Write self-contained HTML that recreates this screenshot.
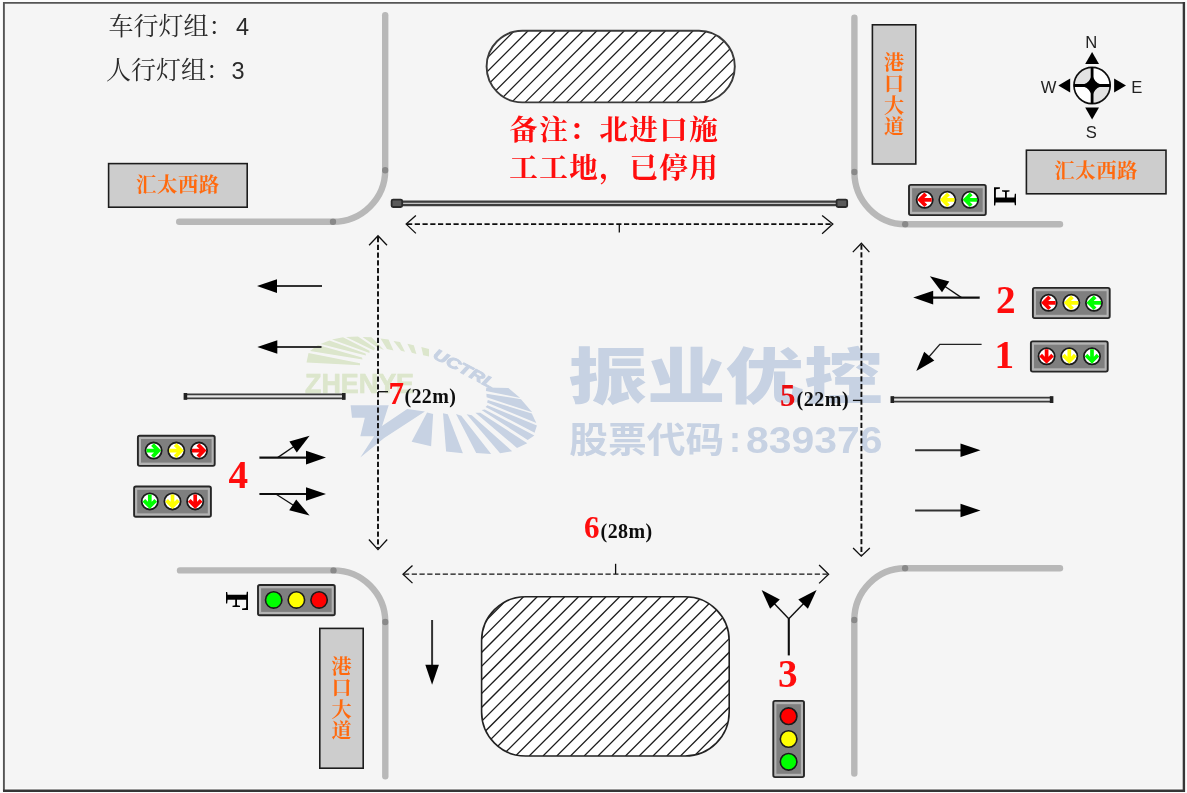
<!DOCTYPE html>
<html lang="zh"><head><meta charset="utf-8"><title>交叉口灯组布置图</title>
<style>
html,body{margin:0;padding:0;background:#fff;}
svg{display:block;}
.sf{font-family:"Liberation Serif","Noto Serif CJK SC",serif;}
.ss{font-family:"Liberation Sans","Noto Sans CJK SC",sans-serif;}
</style></head><body>
<svg width="1187" height="793" viewBox="0 0 1187 793">
<rect x="0" y="0" width="1187" height="793" fill="#fcfcfc"/>
<rect x="3.9" y="2.9" width="1180" height="787.7" fill="#f5f5f5"/>
<line x1="4" y1="789.1" x2="1183" y2="789.1" stroke="#fff" stroke-width="1.4"/>
<path d="M3.9 791 V2.9 H1184" fill="none" stroke="#555" stroke-width="1.9"/>
<path d="M1183.9 2 V790.7 H3" fill="none" stroke="#363636" stroke-width="2.4"/>
<defs><filter id="soft" x="0" y="0" width="100%" height="100%" filterUnits="userSpaceOnUse"><feGaussianBlur stdDeviation="0.5"/></filter></defs>
<g filter="url(#soft)">
<g id="wm">
<polygon fill="#dce6cc" points="306.5,362.5 308.5,353.0 360.0,363.3 360.0,365.3"/>
<polygon fill="#dce6cc" points="310.0,351.0 318.0,345.0 362.0,357.6 362.5,359.6"/>
<polygon fill="#dce6cc" points="320.5,344.0 329.5,340.5 365.5,353.6 366.0,355.6"/>
<polygon fill="#dce6cc" points="332.0,339.5 343.0,337.3 369.5,350.8 369.5,353.0"/>
<polygon fill="#dce6cc" points="346.0,337.0 358.0,336.5 375.0,348.0 374.0,350.5"/>
<polygon fill="#dce6cc" points="362.5,337.0 371.5,337.3 384.0,350.0 376.0,346.5"/>
<polygon fill="#dce6cc" points="380.5,338.5 388.5,339.5 393.5,350.5 387.0,349.0"/>
<polygon fill="#dce6cc" points="393.5,341.0 400.0,342.0 405.0,351.7 401.0,350.8"/>
<polygon fill="#dce6cc" points="407.4,343.8 413.8,345.2 416.4,354.0 411.8,352.7"/>
<polygon fill="#dce6cc" points="421.3,347.0 429.0,349.0 429.0,356.5 423.2,355.3"/>
<text class="ss" x="305" y="393.2" font-size="27" font-weight="700" fill="#dce6cc" stroke="#dce6cc" stroke-width="0.7" textLength="109" lengthAdjust="spacingAndGlyphs">ZHENYE</text>
<text class="ss" font-size="15" font-weight="700" font-style="italic" fill="#c7d2e3" stroke="#c7d2e3" stroke-width="0.9" transform="translate(432,357.5) rotate(28)" textLength="68" lengthAdjust="spacingAndGlyphs">UCTRL</text>
<polygon fill="#c7d2e3" points="486.3,387.5 508.4,387.9 520.2,398.0 485.9,391.0"/>
<polygon fill="#c7d2e3" points="486.4,393.7 521.0,399.3 532.2,412.3 486.6,397.3"/>
<polygon fill="#c7d2e3" points="487.8,400.1 531.8,413.6 536.3,423.1 487.0,402.4"/>
<polygon fill="#c7d2e3" points="487.4,405.2 536.9,425.6 534.6,432.8 485.5,406.9"/>
<polygon fill="#c7d2e3" points="484.8,409.4 534.4,435.4 527.7,440.0 481.5,410.1"/>
<polygon fill="#c7d2e3" points="480.3,412.8 527.3,443.3 517.0,447.9 475.4,412.7"/>
<polygon fill="#c7d2e3" points="471.8,415.3 512.2,451.2 500.1,453.3 466.6,414.2"/>
<polygon fill="#c7d2e3" points="461.3,415.8 491.2,454.1 476.2,453.0 456.0,413.9"/>
<polygon fill="#c7d2e3" points="447.8,414.2 462.9,453.2 446.1,451.4 443.0,413.3"/>
<polygon fill="#c7d2e3" points="433.1,414.1 431.1,446.2 411.6,441.7 427.1,412.4"/>
<polygon fill="#c7d2e3" points="350.6,405.3 388.7,405.3 381.6,427.5 378.0,436.3 360.3,436.3 364.8,417.7 352.0,417.7"/>
<polygon fill="#c7d2e3" points="407.2,408.9 424.9,411.5 384.2,438.1 360.3,457.5 379.8,427.5"/>
<text class="ss" x="568.5" y="399.2" font-size="61" font-weight="900" fill="#c7d2e3" textLength="314" lengthAdjust="spacingAndGlyphs">振业优控</text>
<text class="ss" x="569.2" y="453" font-size="36" font-weight="700" fill="#c7d2e3" textLength="155" lengthAdjust="spacingAndGlyphs">股票代码</text>
<text class="ss" x="729" y="452" font-size="36" font-weight="700" fill="#c7d2e3">:</text>
<text class="ss" x="746" y="453" font-size="37.5" font-weight="700" fill="#c7d2e3" textLength="136.5" lengthAdjust="spacingAndGlyphs">839376</text>
</g>
<g fill="none" stroke="#000" stroke-opacity="0.25" stroke-width="6.4" stroke-linecap="round">
<path d="M385.2 15.2V170.3"/><path d="M385.2 170.3A52.2 51.5 0 0 1 333 221.8"/><path d="M333 221.8H179.2"/>
<path d="M854.4 17.7V172"/><path d="M854.4 172A50.8 52.2 0 0 0 905.2 224.2"/><path d="M905.2 224.2H1060"/>
<path d="M180 570.4H333.5"/><path d="M333.5 570.4A51.8 51.6 0 0 1 385.3 622"/><path d="M385.3 622V776.2"/>
<path d="M1060 568.3H905.1"/><path d="M905.1 568.3A50.8 51.7 0 0 0 854.3 620"/><path d="M854.3 620V773.5"/>
</g>
<clipPath id="h1"><rect x="486.6" y="30.8" width="248.19999999999993" height="71.60000000000001" rx="35.8" ry="35.8"/></clipPath>
<rect x="486.6" y="30.8" width="248.19999999999993" height="71.60000000000001" rx="35.8" ry="35.8" fill="#fff"/>
<g clip-path="url(#h1)" stroke="#1a1a1a" stroke-width="1.25">
<line x1="401.5" y1="102.4" x2="473.1" y2="30.8"/>
<line x1="415.2" y1="102.4" x2="486.8" y2="30.8"/>
<line x1="429.0" y1="102.4" x2="500.6" y2="30.8"/>
<line x1="442.8" y1="102.4" x2="514.4" y2="30.8"/>
<line x1="456.5" y1="102.4" x2="528.1" y2="30.8"/>
<line x1="470.2" y1="102.4" x2="541.9" y2="30.8"/>
<line x1="484.0" y1="102.4" x2="555.6" y2="30.8"/>
<line x1="497.8" y1="102.4" x2="569.4" y2="30.8"/>
<line x1="511.5" y1="102.4" x2="583.1" y2="30.8"/>
<line x1="525.2" y1="102.4" x2="596.9" y2="30.8"/>
<line x1="539.0" y1="102.4" x2="610.6" y2="30.8"/>
<line x1="552.8" y1="102.4" x2="624.4" y2="30.8"/>
<line x1="566.5" y1="102.4" x2="638.1" y2="30.8"/>
<line x1="580.2" y1="102.4" x2="651.9" y2="30.8"/>
<line x1="594.0" y1="102.4" x2="665.6" y2="30.8"/>
<line x1="607.8" y1="102.4" x2="679.4" y2="30.8"/>
<line x1="621.5" y1="102.4" x2="693.1" y2="30.8"/>
<line x1="635.2" y1="102.4" x2="706.9" y2="30.8"/>
<line x1="649.0" y1="102.4" x2="720.6" y2="30.8"/>
<line x1="662.8" y1="102.4" x2="734.4" y2="30.8"/>
<line x1="676.5" y1="102.4" x2="748.1" y2="30.8"/>
<line x1="690.2" y1="102.4" x2="761.9" y2="30.8"/>
<line x1="704.0" y1="102.4" x2="775.6" y2="30.8"/>
<line x1="717.8" y1="102.4" x2="789.4" y2="30.8"/>
<line x1="731.5" y1="102.4" x2="803.1" y2="30.8"/>
<line x1="745.2" y1="102.4" x2="816.9" y2="30.8"/>
</g>
<rect x="486.6" y="30.8" width="248.19999999999993" height="71.60000000000001" rx="35.8" ry="35.8" fill="none" stroke="#3a3a3a" stroke-width="1.9"/>
<clipPath id="h2"><rect x="481.6" y="596.8" width="247.60000000000002" height="159.20000000000005" rx="44" ry="44"/></clipPath>
<rect x="481.6" y="596.8" width="247.60000000000002" height="159.20000000000005" rx="44" ry="44" fill="#fff"/>
<g clip-path="url(#h2)" stroke="#1a1a1a" stroke-width="1.25">
<line x1="309.2" y1="756.0" x2="468.5" y2="596.8"/>
<line x1="323.0" y1="756.0" x2="482.2" y2="596.8"/>
<line x1="336.8" y1="756.0" x2="496.0" y2="596.8"/>
<line x1="350.5" y1="756.0" x2="509.7" y2="596.8"/>
<line x1="364.2" y1="756.0" x2="523.5" y2="596.8"/>
<line x1="378.0" y1="756.0" x2="537.2" y2="596.8"/>
<line x1="391.8" y1="756.0" x2="551.0" y2="596.8"/>
<line x1="405.5" y1="756.0" x2="564.7" y2="596.8"/>
<line x1="419.2" y1="756.0" x2="578.5" y2="596.8"/>
<line x1="433.0" y1="756.0" x2="592.2" y2="596.8"/>
<line x1="446.8" y1="756.0" x2="606.0" y2="596.8"/>
<line x1="460.5" y1="756.0" x2="619.7" y2="596.8"/>
<line x1="474.2" y1="756.0" x2="633.5" y2="596.8"/>
<line x1="488.0" y1="756.0" x2="647.2" y2="596.8"/>
<line x1="501.8" y1="756.0" x2="661.0" y2="596.8"/>
<line x1="515.5" y1="756.0" x2="674.7" y2="596.8"/>
<line x1="529.2" y1="756.0" x2="688.5" y2="596.8"/>
<line x1="543.0" y1="756.0" x2="702.2" y2="596.8"/>
<line x1="556.8" y1="756.0" x2="716.0" y2="596.8"/>
<line x1="570.5" y1="756.0" x2="729.7" y2="596.8"/>
<line x1="584.2" y1="756.0" x2="743.5" y2="596.8"/>
<line x1="598.0" y1="756.0" x2="757.2" y2="596.8"/>
<line x1="611.8" y1="756.0" x2="771.0" y2="596.8"/>
<line x1="625.5" y1="756.0" x2="784.7" y2="596.8"/>
<line x1="639.2" y1="756.0" x2="798.5" y2="596.8"/>
<line x1="653.0" y1="756.0" x2="812.2" y2="596.8"/>
<line x1="666.8" y1="756.0" x2="826.0" y2="596.8"/>
<line x1="680.5" y1="756.0" x2="839.7" y2="596.8"/>
<line x1="694.2" y1="756.0" x2="853.5" y2="596.8"/>
<line x1="708.0" y1="756.0" x2="867.2" y2="596.8"/>
<line x1="721.8" y1="756.0" x2="881.0" y2="596.8"/>
<line x1="735.5" y1="756.0" x2="894.7" y2="596.8"/>
</g>
<rect x="481.6" y="596.8" width="247.60000000000002" height="159.20000000000005" rx="44" ry="44" fill="none" stroke="#222" stroke-width="1.6"/>
<line x1="392" y1="203.3" x2="846.8" y2="203.3" stroke="#3c3c3c" stroke-width="5.8"/>
<line x1="394" y1="203.3" x2="844.8" y2="203.3" stroke="#e6e6e6" stroke-width="1.0"/>
<rect x="391.6" y="199.6" width="10.6" height="7.4" rx="1.5" fill="#5a5a5a" stroke="#2a2a2a" stroke-width="1.8"/>
<rect x="836.6" y="199.6" width="10.6" height="7.4" rx="1.5" fill="#5a5a5a" stroke="#2a2a2a" stroke-width="1.8"/>
<line x1="184.4" y1="396.4" x2="345" y2="396.4" stroke="#3a3a3a" stroke-width="5.6"/>
<line x1="186.4" y1="396.4" x2="343" y2="396.4" stroke="#e6e6e6" stroke-width="2.2"/>
<rect x="183.6" y="393" width="3.6" height="6.8" fill="#222"/><rect x="342" y="393" width="3.6" height="6.8" fill="#222"/>
<line x1="891.3" y1="399.6" x2="1052.8" y2="399.6" stroke="#3a3a3a" stroke-width="5.6"/>
<line x1="893.3" y1="399.6" x2="1050.8" y2="399.6" stroke="#e6e6e6" stroke-width="2.2"/>
<rect x="890.5" y="396.2" width="3.6" height="6.8" fill="#222"/><rect x="1049.8" y="396.2" width="3.6" height="6.8" fill="#222"/>
<g fill="none" stroke="#111" stroke-width="1.9" stroke-dasharray="5.2 2.55">
<line x1="407" y1="224.1" x2="832" y2="224.1"/>
<line x1="378" y1="237" x2="378" y2="548.5"/>
<line x1="861.4" y1="244.5" x2="861.4" y2="555"/>
</g>
<g fill="none" stroke="#111" stroke-width="1.35" stroke-dasharray="5.2 2.55">
<line x1="404" y1="574.1" x2="827.5" y2="574.1"/>
</g>
<g fill="none" stroke="#111" stroke-width="1.3" stroke-linejoin="miter">
<path d="M415.9 215.6L406.2 224.1L415.9 233.4"/>
<path d="M822.1 215.6L832.8 224L822.1 233.7"/>
<path d="M369.1 245.2L378 235.8L387 245.2"/>
<path d="M368.9 539.5L378 549.6L387.2 539.5"/>
<path d="M852.8 252.1L861.4 243.3L869.4 252.1"/>
<path d="M853.1 548L861.3 556.2L869.8 548"/>
<path d="M412.5 565.4L403 574.2L412.5 583.1"/>
<path d="M819.1 565L828.6 574.3L819.1 583.4"/>
<path d="M619.3 224V232.5"/><path d="M615.6 563.8V574"/><path d="M378 391.7H388"/><path d="M852.9 400.4H861.4"/>
</g>
<line x1="322.0" y1="286.1" x2="273.0" y2="286.1" stroke="#333" stroke-width="2"/>
<polygon fill="#000" points="257.0,286.1 277.0,279.3 277.0,292.9"/>
<line x1="321.5" y1="347.0" x2="273.3" y2="347.0" stroke="#333" stroke-width="2"/>
<polygon fill="#000" points="257.3,347.0 277.3,340.2 277.3,353.8"/>
<line x1="915.1" y1="450.3" x2="964.5" y2="450.3" stroke="#333" stroke-width="2"/>
<polygon fill="#000" points="980.5,450.3 960.5,457.1 960.5,443.5"/>
<line x1="915.1" y1="510.5" x2="964.5" y2="510.5" stroke="#333" stroke-width="2"/>
<polygon fill="#000" points="980.5,510.5 960.5,517.3 960.5,503.7"/>
<line x1="432.1" y1="620.0" x2="432.1" y2="668.7" stroke="#333" stroke-width="2"/>
<polygon fill="#000" points="432.1,684.7 425.3,664.7 438.9,664.7"/>
<line x1="259.4" y1="457.6" x2="310.0" y2="457.6" stroke="#111" stroke-width="2.2"/>
<polygon fill="#000" points="326.0,457.6 306.0,464.4 306.0,450.8"/>
<line x1="277.6" y1="457.6" x2="296.4" y2="444.7" stroke="#111" stroke-width="1.3"/>
<polygon fill="#000" points="309.6,435.7 296.8,452.4 289.4,441.6"/>
<line x1="259.4" y1="494.0" x2="310.0" y2="494.0" stroke="#111" stroke-width="2.2"/>
<polygon fill="#000" points="326.0,494.0 306.0,500.8 306.0,487.2"/>
<line x1="275.8" y1="494.0" x2="296.1" y2="507.0" stroke="#111" stroke-width="1.3"/>
<polygon fill="#000" points="309.6,515.6 289.2,510.3 296.2,499.4"/>
<line x1="979.7" y1="297.6" x2="929.2" y2="297.6" stroke="#111" stroke-width="2.2"/>
<polygon fill="#000" points="913.2,297.6 933.2,290.8 933.2,304.4"/>
<line x1="961.5" y1="297.6" x2="942.5" y2="284.8" stroke="#111" stroke-width="1.3"/>
<polygon fill="#000" points="929.9,276.3 949.3,281.5 942.0,292.3"/>
<path d="M981.6 344.4H939.8L925 361.5" fill="none" stroke="#222" stroke-width="1.4"/>
<polygon fill="#000" points="916.3,370.9 924.2,351.7 934.3,360.6"/>
<line x1="788.8" y1="655.4" x2="788.8" y2="618.5" stroke="#111" stroke-width="2.1"/>
<line x1="788.8" y1="618.8" x2="772.3" y2="601.4" stroke="#111" stroke-width="1.4"/>
<polygon fill="#000" points="761.6,590.1 779.8,599.6 770.1,608.8"/>
<line x1="788.8" y1="618.8" x2="805.8" y2="601.2" stroke="#111" stroke-width="1.4"/>
<polygon fill="#000" points="816.6,590.1 807.9,608.7 798.3,599.4"/>
<rect x="108.6" y="163.6" width="138.6" height="43.6" fill="#cdcdcd" stroke="#1e1e1e" stroke-width="1.6"/>
<text class="sf" x="177.89999999999998" y="191.8" font-size="20.4" letter-spacing="0.6" font-weight="700" fill="#ff6a10" text-anchor="middle">汇太西路</text>
<rect x="1026.4" y="150.2" width="139.6" height="43.6" fill="#cdcdcd" stroke="#1e1e1e" stroke-width="1.6"/>
<text class="sf" x="1096.2" y="178.4" font-size="20.4" letter-spacing="0.6" font-weight="700" fill="#ff6a10" text-anchor="middle">汇太西路</text>
<rect x="872.4" y="24.8" width="43.4" height="139.2" fill="#cdcdcd" stroke="#1e1e1e" stroke-width="1.6"/>
<text class="sf" x="894.1" y="70.0" font-size="20.2" font-weight="700" fill="#ff6a10" text-anchor="middle">港</text>
<text class="sf" x="894.1" y="91.3" font-size="20.2" font-weight="700" fill="#ff6a10" text-anchor="middle">口</text>
<text class="sf" x="894.1" y="112.6" font-size="20.2" font-weight="700" fill="#ff6a10" text-anchor="middle">大</text>
<text class="sf" x="894.1" y="133.9" font-size="20.2" font-weight="700" fill="#ff6a10" text-anchor="middle">道</text>
<rect x="319.8" y="628.4" width="43.4" height="139.8" fill="#cdcdcd" stroke="#1e1e1e" stroke-width="1.6"/>
<text class="sf" x="341.5" y="674.0" font-size="20.2" font-weight="700" fill="#ff6a10" text-anchor="middle">港</text>
<text class="sf" x="341.5" y="695.3" font-size="20.2" font-weight="700" fill="#ff6a10" text-anchor="middle">口</text>
<text class="sf" x="341.5" y="716.6" font-size="20.2" font-weight="700" fill="#ff6a10" text-anchor="middle">大</text>
<text class="sf" x="341.5" y="737.9" font-size="20.2" font-weight="700" fill="#ff6a10" text-anchor="middle">道</text>
<text class="sf" x="108.5" y="34.5" font-size="25" fill="#2b2b2b" font-weight="400">车行灯组：<tspan class="ss" x="236" font-size="23.5">4</tspan></text>
<text class="sf" x="106" y="78.6" font-size="25" fill="#2b2b2b" font-weight="400">人行灯组：<tspan class="ss" x="231.5" font-size="23.5">3</tspan></text>
<text class="sf" x="509.2" y="139.6" font-size="28.6" letter-spacing="1.4" fill="#ff0a0a" font-weight="700">备注：北进口施</text>
<text class="sf" x="509.2" y="178" font-size="28.6" letter-spacing="1.4" fill="#ff0a0a" font-weight="700">工工地，已停用</text>
<text class="sf" x="1005.7" y="313.3" font-size="39.2" font-weight="700" fill="#ff0a0a" text-anchor="middle">2</text>
<text class="sf" x="1004.2" y="368.2" font-size="39.2" font-weight="700" fill="#ff0a0a" text-anchor="middle">1</text>
<text class="sf" x="238.2" y="487.8" font-size="39.2" font-weight="700" fill="#ff0a0a" text-anchor="middle">4</text>
<text class="sf" x="787.7" y="687" font-size="39.2" font-weight="700" fill="#ff0a0a" text-anchor="middle">3</text>
<text class="sf" x="388.4" y="403.7" font-size="31" font-weight="700" fill="#ff0a0a">7</text>
<text class="sf" transform="translate(404.4,403.4) scale(1,1.09)" font-size="20" font-weight="700" fill="#111" textLength="51.5" lengthAdjust="spacing">(22m)</text>
<text class="sf" x="780" y="406.2" font-size="31" font-weight="700" fill="#ea0810">5</text>
<text class="sf" transform="translate(796.6,405.6) scale(1,1.09)" font-size="20" font-weight="700" fill="#111" textLength="52" lengthAdjust="spacing">(22m)</text>
<text class="sf" x="584" y="537.9" font-size="31" font-weight="700" fill="#ff0a0a">6</text>
<text class="sf" transform="translate(600.6,537.5) scale(1,1.09)" font-size="20" font-weight="700" fill="#111" textLength="51.6" lengthAdjust="spacing">(28m)</text>
<text class="sf" font-size="33.5" font-weight="700" fill="#000" text-anchor="middle" transform="translate(1016.1,195.8) rotate(-90)">F</text>
<text class="sf" font-size="33.5" font-weight="700" fill="#000" text-anchor="middle" transform="translate(225.6,601.6) rotate(90)">F</text>
<circle cx="1092.1" cy="85.5" r="18.1" fill="#fff"/>
<path d="M1092.1 85.5V67.4A18.1 18.1 0 0 0 1074.0 85.5Z" fill="#e2e2e2"/>
<path d="M1092.1 85.5V103.6A18.1 18.1 0 0 0 1110.1999999999998 85.5Z" fill="#e2e2e2"/>
<circle cx="1092.1" cy="85.5" r="18.1" fill="none" stroke="#111" stroke-width="1.7"/>
<path d="M1092.1 67.1Q1090.5 87.1 1110.5 85.5Q1090.5 83.9 1092.1 103.9Q1093.6999999999998 83.9 1073.6999999999998 85.5Q1093.6999999999998 87.1 1092.1 67.1Z" fill="#000"/>
<path d="M1090.6999999999998 67.1H1093.5V103.9H1090.6999999999998Z M1073.6999999999998 84.1H1110.5V86.9H1073.6999999999998Z" fill="#000"/>
<circle cx="1092.1" cy="85.5" r="4.6" fill="#000"/>
<polygon fill="#000" points="1092.1,52 1099.0,63.9 1085.1999999999998,63.9"/>
<polygon fill="#000" points="1092.1,119.4 1099.0,107.6 1085.1999999999998,107.6"/>
<polygon fill="#000" points="1058.3,85.5 1070.2,78.6 1070.2,92.4"/>
<polygon fill="#000" points="1126,85.5 1114.1,78.6 1114.1,92.4"/>
<text class="ss" x="1091.3" y="48.2" font-size="16.6" fill="#222" text-anchor="middle">N</text>
<text class="ss" x="1091.2" y="137.6" font-size="16.6" fill="#222" text-anchor="middle">S</text>
<text class="ss" x="1048.6" y="93.3" font-size="16.6" fill="#222" text-anchor="middle">W</text>
<text class="ss" x="1136.8" y="93.3" font-size="16.6" fill="#222" text-anchor="middle">E</text>
<rect x="909.0" y="184.9" width="76.8" height="30.2" rx="1.8" fill="#b4b4b4" stroke="#262626" stroke-width="1.9"/>
<rect x="912.1" y="188.2" width="70.6" height="23.6" fill="#7f7f7f"/>
<circle cx="924.7" cy="199.8" r="8.1" fill="#fff" stroke="#1a1a1a" stroke-width="1.8"/>
<path d="M-7.5 0L-0.3 -7.3L2.5 -4.6L-0.4 -1.85H7V1.85H-0.4L2.5 4.6L-0.3 7.3Z" fill="#ff0000" transform="translate(924.7,199.8) rotate(0)"/>
<circle cx="947.4" cy="199.8" r="8.1" fill="#fff" stroke="#1a1a1a" stroke-width="1.8"/>
<path d="M-7.5 0L-0.3 -7.3L2.5 -4.6L-0.4 -1.85H7V1.85H-0.4L2.5 4.6L-0.3 7.3Z" fill="#ffff00" transform="translate(947.4,199.8) rotate(0)"/>
<circle cx="970.1" cy="199.8" r="8.1" fill="#fff" stroke="#1a1a1a" stroke-width="1.8"/>
<path d="M-7.5 0L-0.3 -7.3L2.5 -4.6L-0.4 -1.85H7V1.85H-0.4L2.5 4.6L-0.3 7.3Z" fill="#00ff00" transform="translate(970.1,199.8) rotate(0)"/>
<rect x="1032.9" y="287.9" width="76.8" height="30.2" rx="1.8" fill="#b4b4b4" stroke="#262626" stroke-width="1.9"/>
<rect x="1036" y="291.2" width="70.6" height="23.6" fill="#7f7f7f"/>
<circle cx="1048.6" cy="302.8" r="8.1" fill="#fff" stroke="#1a1a1a" stroke-width="1.8"/>
<path d="M-7.5 0L-0.3 -7.3L2.5 -4.6L-0.4 -1.85H7V1.85H-0.4L2.5 4.6L-0.3 7.3Z" fill="#ff0000" transform="translate(1048.6,302.8) rotate(0)"/>
<circle cx="1071.3" cy="302.8" r="8.1" fill="#fff" stroke="#1a1a1a" stroke-width="1.8"/>
<path d="M-7.5 0L-0.3 -7.3L2.5 -4.6L-0.4 -1.85H7V1.85H-0.4L2.5 4.6L-0.3 7.3Z" fill="#ffff00" transform="translate(1071.3,302.8) rotate(0)"/>
<circle cx="1094.0" cy="302.8" r="8.1" fill="#fff" stroke="#1a1a1a" stroke-width="1.8"/>
<path d="M-7.5 0L-0.3 -7.3L2.5 -4.6L-0.4 -1.85H7V1.85H-0.4L2.5 4.6L-0.3 7.3Z" fill="#00ff00" transform="translate(1094.0,302.8) rotate(0)"/>
<rect x="1030.9" y="341.4" width="76.8" height="30.2" rx="1.8" fill="#b4b4b4" stroke="#262626" stroke-width="1.9"/>
<rect x="1034" y="344.7" width="70.6" height="23.6" fill="#7f7f7f"/>
<circle cx="1046.6" cy="356.3" r="8.1" fill="#fff" stroke="#1a1a1a" stroke-width="1.8"/>
<path d="M-7.5 0L-0.3 -7.3L2.5 -4.6L-0.4 -1.85H7V1.85H-0.4L2.5 4.6L-0.3 7.3Z" fill="#ff0000" transform="translate(1046.6,356.3) rotate(-90)"/>
<circle cx="1069.3" cy="356.3" r="8.1" fill="#fff" stroke="#1a1a1a" stroke-width="1.8"/>
<path d="M-7.5 0L-0.3 -7.3L2.5 -4.6L-0.4 -1.85H7V1.85H-0.4L2.5 4.6L-0.3 7.3Z" fill="#ffff00" transform="translate(1069.3,356.3) rotate(-90)"/>
<circle cx="1092.0" cy="356.3" r="8.1" fill="#fff" stroke="#1a1a1a" stroke-width="1.8"/>
<path d="M-7.5 0L-0.3 -7.3L2.5 -4.6L-0.4 -1.85H7V1.85H-0.4L2.5 4.6L-0.3 7.3Z" fill="#00ff00" transform="translate(1092.0,356.3) rotate(-90)"/>
<rect x="137.9" y="435.7" width="76.8" height="30.2" rx="1.8" fill="#b4b4b4" stroke="#262626" stroke-width="1.9"/>
<rect x="141" y="439.0" width="70.6" height="23.6" fill="#7f7f7f"/>
<circle cx="153.6" cy="450.6" r="8.1" fill="#fff" stroke="#1a1a1a" stroke-width="1.8"/>
<path d="M-7.5 0L-0.3 -7.3L2.5 -4.6L-0.4 -1.85H7V1.85H-0.4L2.5 4.6L-0.3 7.3Z" fill="#00ff00" transform="translate(153.6,450.6) rotate(180)"/>
<circle cx="176.3" cy="450.6" r="8.1" fill="#fff" stroke="#1a1a1a" stroke-width="1.8"/>
<path d="M-7.5 0L-0.3 -7.3L2.5 -4.6L-0.4 -1.85H7V1.85H-0.4L2.5 4.6L-0.3 7.3Z" fill="#ffff00" transform="translate(176.3,450.6) rotate(180)"/>
<circle cx="199.0" cy="450.6" r="8.1" fill="#fff" stroke="#1a1a1a" stroke-width="1.8"/>
<path d="M-7.5 0L-0.3 -7.3L2.5 -4.6L-0.4 -1.85H7V1.85H-0.4L2.5 4.6L-0.3 7.3Z" fill="#ff0000" transform="translate(199.0,450.6) rotate(180)"/>
<rect x="134.1" y="486.5" width="76.8" height="30.2" rx="1.8" fill="#b4b4b4" stroke="#262626" stroke-width="1.9"/>
<rect x="137.2" y="489.8" width="70.6" height="23.6" fill="#7f7f7f"/>
<circle cx="149.8" cy="501.4" r="8.1" fill="#fff" stroke="#1a1a1a" stroke-width="1.8"/>
<path d="M-7.5 0L-0.3 -7.3L2.5 -4.6L-0.4 -1.85H7V1.85H-0.4L2.5 4.6L-0.3 7.3Z" fill="#00ff00" transform="translate(149.8,501.4) rotate(-90)"/>
<circle cx="172.5" cy="501.4" r="8.1" fill="#fff" stroke="#1a1a1a" stroke-width="1.8"/>
<path d="M-7.5 0L-0.3 -7.3L2.5 -4.6L-0.4 -1.85H7V1.85H-0.4L2.5 4.6L-0.3 7.3Z" fill="#ffff00" transform="translate(172.5,501.4) rotate(-90)"/>
<circle cx="195.2" cy="501.4" r="8.1" fill="#fff" stroke="#1a1a1a" stroke-width="1.8"/>
<path d="M-7.5 0L-0.3 -7.3L2.5 -4.6L-0.4 -1.85H7V1.85H-0.4L2.5 4.6L-0.3 7.3Z" fill="#ff0000" transform="translate(195.2,501.4) rotate(-90)"/>
<rect x="258.0" y="585.0" width="76.8" height="30.2" rx="1.8" fill="#b4b4b4" stroke="#262626" stroke-width="1.9"/>
<rect x="261.1" y="588.3000000000001" width="70.6" height="23.6" fill="#7f7f7f"/>
<circle cx="273.7" cy="599.9" r="8.2" fill="#00ff00" stroke="#1a1a1a" stroke-width="1.6"/>
<circle cx="296.4" cy="599.9" r="8.2" fill="#ffff00" stroke="#1a1a1a" stroke-width="1.6"/>
<circle cx="319.1" cy="599.9" r="8.2" fill="#ff0000" stroke="#1a1a1a" stroke-width="1.6"/>
<rect x="773.3" y="700.9" width="30.7" height="76.2" rx="1.8" fill="#b4b4b4" stroke="#262626" stroke-width="1.9"/>
<rect x="776.4" y="704.2" width="24.5" height="69.6" fill="#7f7f7f"/>
<circle cx="788.6" cy="716.2" r="8.3" fill="#ff0000" stroke="#1a1a1a" stroke-width="1.6"/>
<circle cx="788.6" cy="739.0" r="8.3" fill="#ffff00" stroke="#1a1a1a" stroke-width="1.6"/>
<circle cx="788.6" cy="761.8" r="8.3" fill="#00ff00" stroke="#1a1a1a" stroke-width="1.6"/>
</g>
</svg></body></html>
